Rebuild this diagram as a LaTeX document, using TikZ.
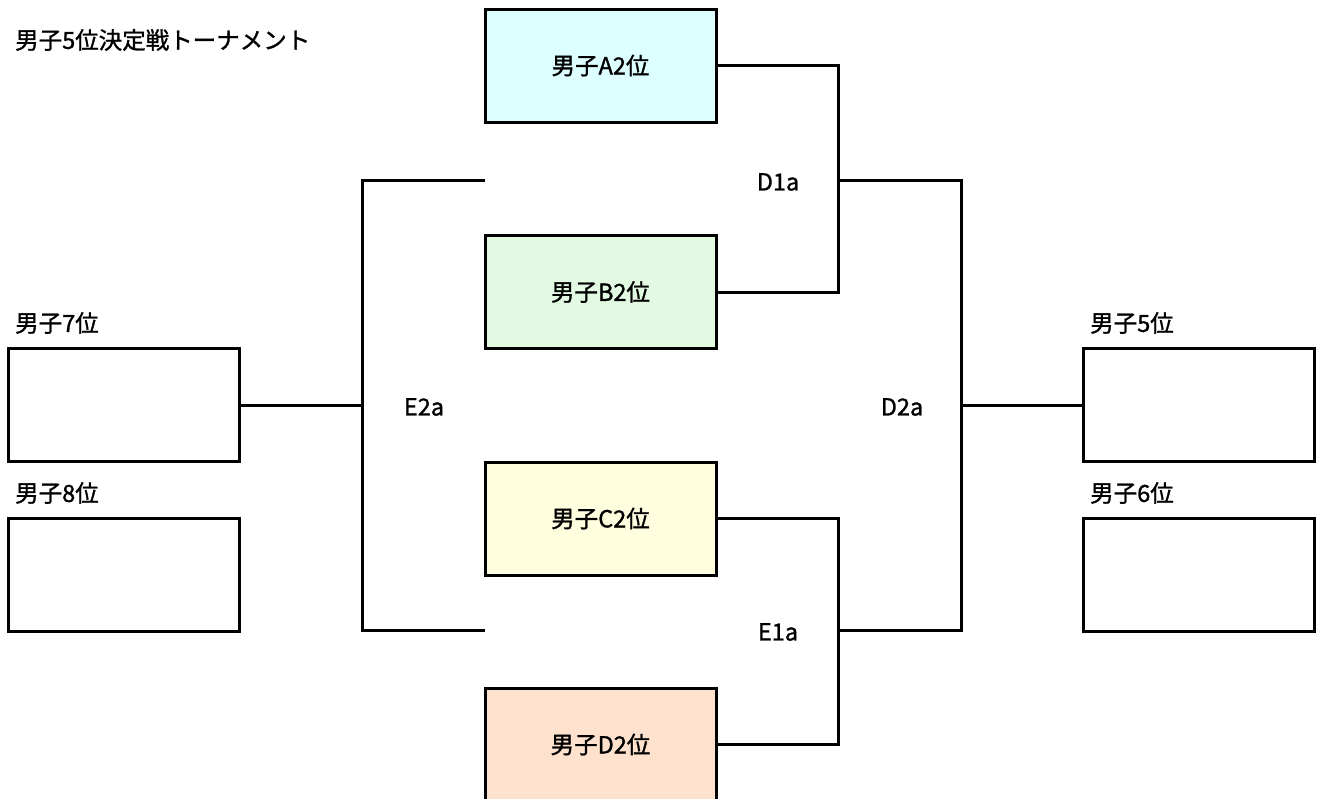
\documentclass[tikz,border=0pt]{standalone}
\usepackage{fontspec}
\newfontfamily\jp{Noto Sans CJK JP}[FakeBold=1.2]
\definecolor{boxA}{RGB}{221,255,255}
\definecolor{boxB}{RGB}{226,250,226}
\definecolor{boxC}{RGB}{255,255,224}
\definecolor{boxD}{RGB}{255,226,206}
\tikzset{
  team/.style={draw, line width=3pt, minimum width=231pt, minimum height=113pt, inner sep=0pt, font=\jp\fontsize{23.5}{27}\selectfont},
  label/.style={inner sep=0pt, font=\jp\fontsize{23.5}{27}\selectfont},
  wire/.style={line width=3pt}
}
\begin{document}
\begin{tikzpicture}[x=1pt,y=-1pt]
\useasboundingbox (0,0) rectangle (1320,798);
\node[label,anchor=west] (title) at (15,40) {男子5位決定戦トーナメント};
\node[team,fill=boxA] (a2) at (600.5,65.5) {男子A2位};
\node[team,fill=boxB] (b2) at (600.5,292) {男子B2位};
\node[team,fill=boxC] (c2) at (600.5,518.5) {男子C2位};
\node[team,fill=boxD] (d2) at (600.5,744.5) {男子D2位};
\node[team] (m7) at (124,405) {};
\node[team] (m8) at (124,574.5) {};
\node[team] (m5) at (1199,405) {};
\node[team] (m6) at (1199,574.5) {};
\node[label,anchor=west] at (15,323) {男子7位};
\node[label,anchor=west] at (15,493) {男子8位};
\node[label,anchor=west] at (1090,323) {男子5位};
\node[label,anchor=west] at (1090,493) {男子6位};
\coordinate (d1a) at (838,180);
\coordinate (e1a) at (838,630);
\coordinate (d2a) at (961,405);
\coordinate (e2a) at (362,405);
\coordinate (e2top) at (485,180);
\coordinate (e2bot) at (485,630);
\node[label] (d1text) at (778,182) {D1a};
\node[label] (e1text) at (778,632) {E1a};
\node[label] (d2text) at (902,407) {D2a};
\node[label] (e2text) at (424,407) {E2a};
\draw[wire] (a2.east) -| (d1a) |- (b2.east);
\draw[wire] (c2.east) -| (e1a) |- (d2.east);
\draw[wire] (d1a) -| (d2a) |- (e1a);
\draw[wire] (d2a) -- (m5.west);
\draw[wire] (e2top) -| (e2a) |- (e2bot);
\draw[wire] (m7.east) -- (e2a);
\end{tikzpicture}
\end{document}
